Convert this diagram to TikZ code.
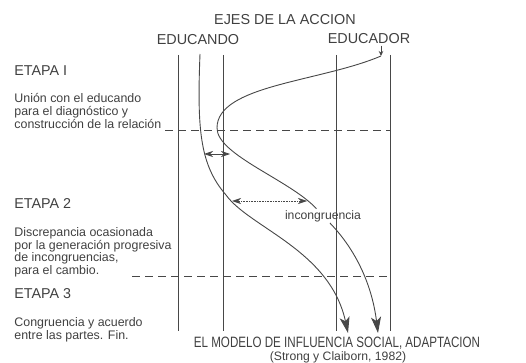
\documentclass[tikz,border=0pt]{standalone}
\usepackage{fontspec}
\setmainfont{Liberation Sans}
\usetikzlibrary{arrows.meta}

\begin{document}
\begin{tikzpicture}[x=1pt,y=-1pt,line width=0.9pt,draw=black!72,
  every node/.style={text=black!75,inner sep=1pt},
  eje/.style={anchor=base,font=\fontsize{14.4}{16}\selectfont},
  etapa/.style={anchor=base west,font=\fontsize{14.3}{16}\selectfont},
  desc/.style={anchor=base west,font=\fontsize{12.4}{13}\selectfont},
  tip/.style={-{Stealth[length=16pt,width=10pt,inset=4pt]}},
  gap/.style={{Stealth[length=9pt,width=6pt]}-{Stealth[length=9pt,width=6pt]}},
  cut/.style={dash pattern=on 8pt off 5pt}]
  \useasboundingbox (0,0) rectangle (526,363);

  \node[eje] (ejes) at (285,25) {EJES DE LA ACCION};
  \node[eje] (educando) at (198,45) {EDUCANDO};
  \node[eje] (educador) at (369,44) {EDUCADOR};

  \draw (178,55) -- (178,331);
  \draw (223,55) -- (223,331);
  \draw (336,55) -- (336,331);
  \draw (390,55) -- (390,331);

  \draw[cut] (165,130) -- (390,130);
  \draw[cut] (132,276) -- (390,276);

  \node[etapa] (et1) at (13,76) {ETAPA I};
  \node[desc] (d1a) at (13,103) {Unión con el educando};
  \node[desc] (d1b) at (13,116) {para el diagnóstico y};
  \node[desc] (d1c) at (13,129) {construcción de la relación};

  \node[etapa] (et2) at (13,208) {ETAPA 2};
  \node[desc] (d2a) at (13,236) {Discrepancia ocasionada};
  \node[desc] (d2b) at (13,249) {por la generación progresiva};
  \node[desc] (d2c) at (13,261) {de incongruencias,};
  \node[desc] (d2d) at (13,274) {para el cambio.};

  \node[etapa] (et3) at (13,298) {ETAPA 3};
  \node[desc] (d3a) at (13,326) {Congruencia y acuerdo};
  \node[desc] (d3b) at (13,339) {entre las partes. Fin.};

  \node[anchor=base,inner sep=0pt,font=\fontsize{15}{16}\selectfont] (modelo) at (337,347)
    {\scalebox{0.774}[1]{EL MODELO DE INFLUENCIA SOCIAL, ADAPTACION}};
  \node[anchor=base,inner sep=0pt,font=\fontsize{12.2}{14}\selectfont] (ref) at (338,360) {(Strong y Claiborn, 1982)};

  \coordinate (a0) at (200,54);
  \coordinate (a1) at (226,195);
  \coordinate (a2) at (348,333);
  \draw[tip] (a0) .. controls (197,130) and (200,165) .. (a1)
    .. controls (250,228) and (330,250) .. (a2);

  \node[anchor=base,font=\fontsize{12.2}{14}\selectfont] (inc) at (323,219) {incongruencia};
  \coordinate (b0) at (381,56);
  \coordinate (b1) at (217,128);
  \coordinate (b2) at (378,333);
  \draw (b0) .. controls (320,82) and (217,85) .. (b1)
    .. controls (217,155) and (290,180) .. (inc);
  \draw[tip] (inc) .. controls (356,250) and (372,285) .. (b2);
  \draw[-{Stealth[length=5pt,width=4.5pt]}] (educador.south -| b0) -- (b0);

  \coordinate (g1l) at (204,154);
  \coordinate (g1r) at (230,154);
  \draw[gap,line width=0.7pt] (g1l) -- (g1r);
  \coordinate (g2l) at (232,201);
  \coordinate (g2r) at (307,201);
  \draw[gap,line width=0.6pt,densely dotted] (g2l) -- (g2r);
\end{tikzpicture}
\end{document}
